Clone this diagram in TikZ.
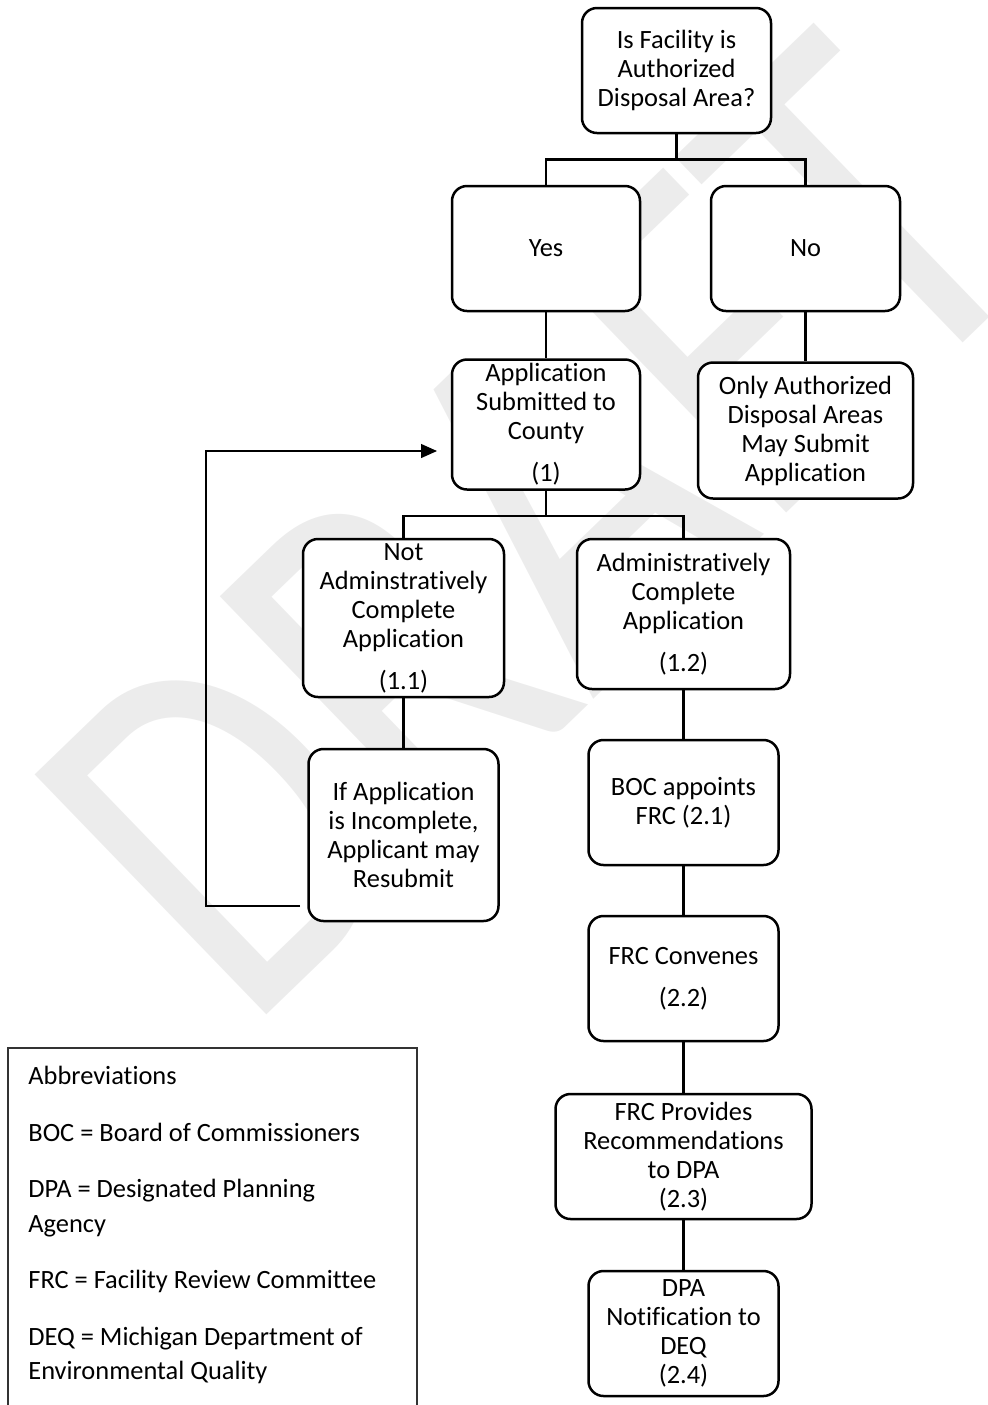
\documentclass[tikz,border=0pt]{standalone}
\usepackage{fontspec}
\setmainfont{Carlito}[Ligatures=NoCommon]
\usetikzlibrary{arrows.meta}
\tikzset{
  box/.style={draw,fill=white,rounded corners=7.5pt,line width=1.25pt,align=center,inner sep=2pt,
    font=\fontsize{13.2}{14.5}\selectfont},
  sz/.style 2 args={minimum width=#1*0.5pt,minimum height=#2*0.5pt},
  link/.style={draw,line width=1.25pt},
  back/.style={draw,line width=0.6pt,-{Triangle[length=8pt,width=7pt]}},
}
\newcommand{\numgap}{\\[6.5pt]}

\begin{document}
\begin{tikzpicture}[x=0.5pt,y=-0.5pt]
\useasboundingbox (0,0) rectangle (987,1405);
\clip (0,0) rectangle (987,1405);
% watermark
\node[rotate=44,xscale=0.8,anchor=base west,text=gray!15,inner sep=0pt,
  font=\fontsize{260}{260}\selectfont] (draft) at (246,1035) {DRAFT};

\node[box,sz={189}{125}] (facility) at (676.5,70.5) {Is Facility is\\Authorized\\Disposal Area?};
\node[box,sz={188}{125}] (yes) at (546,248.5) {Yes};
\node[box,sz={189}{125}] (no) at (805.5,248.5) {No};
\node[box,sz={188}{125}] (submit) at (546,424.5) {Application\\Submitted to\\County\numgap(1)};
\node[box,sz={215}{136}] (only) at (805.5,430.5) {Only Authorized\\Disposal Areas\\May Submit\\Application};
\node[box,sz={201}{158}] (notcomplete) at (403.5,618) {Not\\Adminstratively\\Complete\\Application\numgap(1.1)};
\node[box,sz={213}{150}] (complete) at (683.5,614) {Administratively\\Complete\\Application\numgap(1.2)};
\node[box,sz={190}{172}] (resubmit) at (403.5,835) {If Application\\is Incomplete,\\Applicant may\\Resubmit};
\node[box,sz={190}{125}] (appoint) at (683.5,802.5) {BOC appoints\\FRC (2.1)};
\node[box,sz={190}{125}] (convene) at (683.5,978.5) {FRC Convenes\numgap(2.2)};
\node[box,sz={256}{125}] (recommend) at (683.5,1156.5) {FRC Provides\\Recommendations\\to DPA\\(2.3)};
\node[box,sz={190}{125}] (notify) at (683.5,1333.5) {DPA\\Notification to\\DEQ\\(2.4)};

% branches
\draw[link] (facility.south) -- ++(0,25) -| (yes.north);
\draw[link] (facility.south) -- ++(0,25) -| (no.north);
\draw[link] (submit.south) -- ++(0,25) -| (notcomplete.north);
\draw[link] (submit.south) -- ++(0,25) -| (complete.north);
\path[link]
  (yes) edge (submit)
  (no) edge (only)
  (notcomplete) edge (resubmit)
  (complete) edge (appoint)
  (appoint) edge (convene)
  (convene) edge (recommend)
  (recommend) edge (notify);

% resubmit loop
\coordinate (loopstart) at (300,906);
\coordinate (looptip) at (437,451);
\draw[back] (loopstart) -- ++(-94,0) |- (looptip);

% abbreviations
\draw[line width=0.7pt,draw=black!80,fill=white] (8,1048) rectangle (417,1420);
\node[anchor=north west,align=left,inner sep=0pt,
  font=\fontsize{13.2}{17.25}\selectfont] (abbrev) at (28,1066)
  {Abbreviations\\[11pt]
   BOC = Board of Commissioners\\[11pt]
   DPA = Designated Planning\\Agency\\[11pt]
   FRC = Facility Review Committee\\[11pt]
   DEQ = Michigan Department of\\Environmental Quality};
\end{tikzpicture}
\end{document}
